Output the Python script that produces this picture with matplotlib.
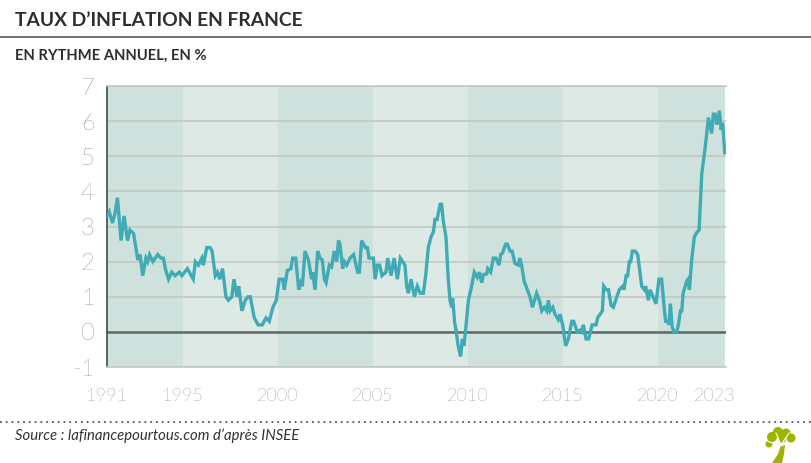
"""Taux d'inflation en France, en rythme annuel."""

import matplotlib
matplotlib.use("Agg")
import matplotlib.pyplot as plt
from matplotlib.patches import Circle, Polygon

# dates (fractional years) and inflation values
years = [
    1991.00, 1991.12, 1991.29, 1991.42, 1991.55, 1991.74, 1991.90, 1992.08, 1992.21, 1992.40,
    1992.62, 1992.74, 1992.88, 1993.05, 1993.14, 1993.24, 1993.41, 1993.67, 1993.83, 1993.97,
    1994.07, 1994.24, 1994.41, 1994.58, 1994.81, 1994.94, 1995.23, 1995.54, 1995.65, 1995.81,
    1995.99, 1996.07, 1996.25, 1996.42, 1996.53, 1996.70, 1996.81, 1996.93, 1997.08, 1997.26,
    1997.39, 1997.57, 1997.68, 1997.84, 1997.93, 1998.10, 1998.28, 1998.42, 1998.54, 1998.75,
    1998.95, 1999.17, 1999.37, 1999.54, 1999.73, 1999.91, 2000.06,
    2000.25, 2000.33, 2000.49, 2000.68, 2000.77, 2000.93, 2001.09, 2001.19, 2001.28, 2001.42,
    2001.60, 2001.77, 2001.82, 2001.95, 2002.09, 2002.21, 2002.33, 2002.44, 2002.53, 2002.70,
    2002.82, 2002.96, 2003.09, 2003.18, 2003.26, 2003.40, 2003.49, 2003.61, 2003.79, 2003.98,
    2004.19, 2004.28, 2004.40, 2004.60, 2004.70, 2004.79, 2005.02, 2005.11, 2005.23, 2005.35,
    2005.47, 2005.68, 2005.77, 2005.95, 2006.11, 2006.28, 2006.44, 2006.68, 2006.77, 2006.86,
    2007.00, 2007.18, 2007.33, 2007.49, 2007.65, 2007.77, 2007.91, 2008.05, 2008.18, 2008.26,
    2008.37, 2008.53, 2008.61, 2008.70, 2008.84, 2008.96, 2009.05, 2009.14, 2009.19, 2009.30,
    2009.37, 2009.47, 2009.61, 2009.70, 2009.79, 2009.89, 2010.02, 2010.19, 2010.33, 2010.49,
    2010.60, 2010.72, 2010.81, 2010.98, 2011.04, 2011.19, 2011.33, 2011.47, 2011.63, 2011.72,
    2011.82, 2011.98, 2012.07, 2012.21, 2012.32, 2012.47, 2012.65, 2012.72, 2012.82, 2012.95,
    2013.12, 2013.26, 2013.39, 2013.61, 2013.75, 2013.88, 2014.02, 2014.14, 2014.23, 2014.32,
    2014.46, 2014.58, 2014.75, 2014.84, 2014.98, 2015.14, 2015.28, 2015.46, 2015.56, 2015.75,
    2015.89, 2015.98, 2016.07, 2016.21, 2016.35, 2016.53, 2016.74, 2016.82, 2016.95, 2017.07,
    2017.14, 2017.26, 2017.39, 2017.53, 2017.65, 2017.77, 2017.96, 2018.14, 2018.21, 2018.32,
    2018.40, 2018.49, 2018.56, 2018.65, 2018.79, 2018.93, 2019.14, 2019.28, 2019.35, 2019.49,
    2019.58, 2019.89, 2020.05, 2020.19, 2020.32, 2020.40, 2020.51, 2020.58, 2020.65, 2020.74,
    2020.84, 2020.98, 2021.07, 2021.18, 2021.25, 2021.32, 2021.51, 2021.58, 2021.65, 2021.77,
    2021.91, 2022.04, 2022.16, 2022.30, 2022.47, 2022.65, 2022.82, 2022.91, 2023.00, 2023.09,
    2023.23, 2023.32, 2023.40, 2023.51,
]
inflation = [
    3.3, 3.42, 3.1, 3.37, 3.82, 2.6, 3.3, 2.6, 2.9, 2.8,
    2.05, 2.2, 1.6, 2.1, 2.0, 2.2, 2.0, 2.2, 2.1, 2.1,
    1.8, 1.5, 1.7, 1.6, 1.7, 1.6, 1.8, 1.5, 2.0, 1.9,
    2.1, 1.9, 2.4, 2.4, 2.3, 1.6, 1.7, 1.5, 1.8, 1.0,
    0.9, 1.0, 1.5, 1.0, 1.3, 0.6, 0.9, 1.0, 1.0, 0.4,
    0.2, 0.2, 0.4, 0.3, 0.7, 0.9, 1.5,
    1.5, 1.2, 1.75, 1.8, 2.1, 2.1, 1.2, 1.4, 1.3, 2.3,
    2.05, 1.5, 1.7, 1.2, 2.3, 2.1, 2.05, 1.5, 1.4, 1.9,
    1.85, 2.3, 2.0, 2.6, 2.5, 1.8, 2.0, 1.9, 2.1, 2.2,
    1.7, 1.7, 2.6, 2.4, 2.4, 2.1, 2.1, 1.5, 1.9, 1.9,
    1.6, 1.7, 2.1, 1.6, 2.1, 1.5, 2.1, 1.9, 1.3, 1.1,
    1.5, 1.0, 1.3, 1.1, 1.1, 1.6, 2.4, 2.7, 2.85, 3.2,
    3.2, 3.63, 3.63, 3.15, 2.7, 1.5, 0.9, 0.7, 0.95, 0.25,
    0.05, -0.37, -0.7, -0.2, -0.4, 0.15, 0.9, 1.3, 1.7, 1.55,
    1.7, 1.4, 1.63, 1.65, 1.8, 1.7, 2.1, 2.1, 1.9, 2.2,
    2.25, 2.5, 2.5, 2.3, 2.3, 1.95, 1.9, 2.1, 1.9, 1.45,
    1.2, 1.0, 0.7, 1.1, 0.9, 0.6, 0.7, 0.6, 0.9, 0.6,
    0.7, 0.5, 0.35, 0.5, 0.2, -0.4, -0.2, 0.3, 0.3, 0.0,
    0.05, 0.0, 0.2, -0.2, -0.2, 0.2, 0.2, 0.4, 0.5, 0.6,
    1.3, 1.2, 1.2, 0.75, 0.7, 0.9, 1.2, 1.3, 1.2, 1.6,
    1.6, 2.0, 2.0, 2.3, 2.3, 2.2, 1.3, 1.2, 1.3, 0.9,
    1.2, 0.8, 1.5, 1.5, 0.7, 0.3, 0.3, 0.2, 0.8, 0.15,
    0.0, 0.0, 0.2, 0.6, 0.6, 1.1, 1.45, 1.5, 1.2, 2.05,
    2.7, 2.83, 2.9, 4.5, 5.2, 6.1, 5.65, 6.2, 6.2, 5.9,
    6.3, 5.75, 5.95, 5.1,
]
band_edges = [1991, 1995, 2000, 2005, 2010, 2015, 2020, 2023.55]
x_ticks = [1991, 1995, 2000, 2005, 2010, 2015, 2020, 2023]
y_ticks = [-1, 0, 1, 2, 3, 4, 5, 6, 7]

W, H = 812, 463
plt.rcParams["font.family"] = ["Lato", "DejaVu Sans"]

fig = plt.figure(figsize=(W / 100, H / 100), dpi=100, facecolor="white")
ax = fig.add_axes([107 / W, 1 - 367 / H, (725.5 - 107) / W, (367 - 86) / H])

for i in range(len(band_edges) - 1):
    color = "#cfe1dc" if i % 2 == 0 else "#dde9e4"
    ax.axvspan(band_edges[i], band_edges[i + 1], color=color, lw=0, zorder=0)

ax.grid(axis="y", color="#c3c8c5", lw=1.2, zorder=1)
ax.axhline(0, color="#5f6a66", lw=1.8, zorder=2)
ax.plot(years, inflation, color="#3eabb5", lw=2.4, solid_joinstyle="miter", zorder=3)

ax.set_xlim(1991, 2023.55)
ax.set_ylim(-1, 7)
ax.set_xticks(x_ticks)
ax.set_xticklabels([str(t) for t in x_ticks], fontsize=13, color="#3c3c3c", fontweight="light")
ax.set_yticks(y_ticks)
ax.set_yticklabels([str(t) for t in y_ticks], fontsize=17, color="#3c3c3c", fontweight="light")
ax.tick_params(length=0)
ax.tick_params(axis="x", pad=15)
ax.tick_params(axis="y", pad=9)

for side in ["top", "bottom"]:
    ax.spines[side].set_color("#c3c8c5")
    ax.spines[side].set_linewidth(1.2)
ax.spines["right"].set_visible(False)
ax.spines["left"].set_color("#33504a")
ax.spines["left"].set_linewidth(1.2)

# overlay in pixel coordinates for the header, footer and logo
over = fig.add_axes([0, 0, 1, 1], facecolor="none")
over.set_xlim(0, W)
over.set_ylim(H, 0)
over.axis("off")

over.text(15, 20, "TAUX D’INFLATION EN FRANCE", fontsize=13.9, fontweight="bold",
          color="#2e2e2e", va="center")
over.plot([0, W], [37, 37], color="#707070", lw=1.4)
over.text(15, 56, "EN RYTHME ANNUEL, EN %", fontsize=10.6, fontweight="bold",
          color="#2e2e2e", va="center")
over.plot([0, W], [422, 422], color="#555555", lw=1.3, ls=(0, (1, 2.2)))
over.text(15, 436, "Source : lafinancepourtous.com d’après INSEE", fontsize=10.7,
          style="italic", color="#333333", va="center")

# tree logo
green = "#9db400"
over.add_patch(Polygon([(772, 463), (778, 454), (781, 445), (785, 445), (784, 454), (782, 463)],
                       color=green, lw=0))
for cx, cy, r in [(769, 444, 3.5), (772, 437, 5), (778, 432, 5), (786, 433, 4.5), (791, 438, 4.5), (782, 439, 4)]:
    over.add_patch(Circle((cx, cy), r, color=green, lw=0))
over.plot([768, 783], [441.5, 446], color="white", lw=0.8)
over.plot([781, 789], [445, 433], color="white", lw=0.8)
over.plot([776, 781], [433, 445], color="white", lw=0.8)

fig.savefig("out.png", dpi=100)
